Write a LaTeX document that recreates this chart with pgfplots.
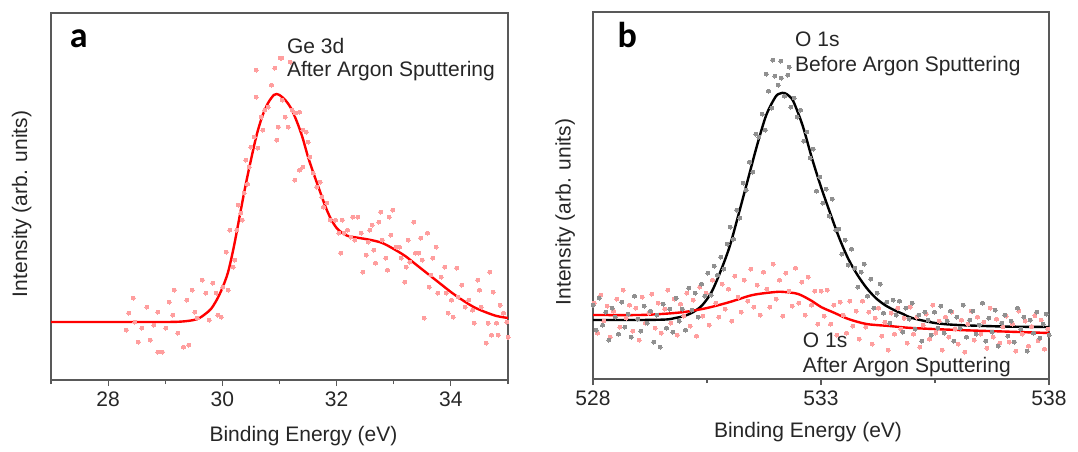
\documentclass[border=0pt]{standalone}
\usepackage{pgfplots}
\pgfplotsset{compat=1.18}
\usepackage{fontspec}
\setmainfont{Liberation Sans}
\newfontfamily\panelfont{Carlito}
\definecolor{axisgray}{HTML}{595959}
\definecolor{txt}{HTML}{262626}
\definecolor{pinkpt}{HTML}{FF9E9E}
\definecolor{graypt}{HTML}{909090}

\pgfplotsset{
  xpspanel/.style={
    scale only axis,
    height=367pt,
    ymin=0, ymax=367,
    ytick=\empty,
    xtick pos=bottom,
    tick align=outside,
    major tick length=6pt,
    minor tick length=4pt,
    axis line style={draw=axisgray, line width=1.2pt},
    tick style={draw=axisgray, line width=1.2pt},
    /pgf/number format/assume math mode=true,
    ticklabel style={font=\fontsize{21}{25}\selectfont, text=txt},
    label style={font=\fontsize{21}{25}\selectfont, text=txt},
    ylabel={Intensity (arb. units)},
    xlabel={Binding Energy (eV)},
  },
  redpts/.style={only marks, mark=*, mark size=2pt, color=pinkpt,
    mark options={draw=pinkpt, fill=pinkpt, line width=0pt}},
  graypts/.style={only marks, mark=*, mark size=2pt, color=graypt,
    mark options={draw=graypt, fill=graypt, line width=0pt}},
}

\begin{document}
\begin{tikzpicture}
\useasboundingbox (0,0) rectangle (1078pt,451pt);

% ---- panel a : Ge 3d ----
\begin{axis}[xpspanel,
  at={(51pt,71pt)}, anchor=south west,
  width=457pt,
  xmin=27, xmax=35,
  xtick={28,30,32,34},
  minor xtick={27,29,31,33,35},
  xlabel style={at={(axis description cs:0.5525,-0.168)}, anchor=base},
  ylabel style={at={(axis description cs:-0.064,0.48)}, anchor=center},
  xticklabel style={yshift=-2pt},
]
\addplot[redpts] coordinates {
(28.44,82)(28.36,67)(28.32,50)(28.47,58)(28.53,38)(28.59,52)(28.68,73)(28.74,40)
(28.80,55)(28.87,68)(28.87,28)(28.95,28)(29.01,52)(29.07,78)(29.16,90)(29.13,65)
(29.22,47)(29.32,33)(29.38,80)(29.41,35)(29.47,90)(29.52,68)(29.56,62)(29.65,100)
(29.71,87)(29.77,60)(29.83,97)(29.89,87)(29.92,65)(29.98,63)(30.01,93)(30.10,90)
(30.07,128)(30.19,113)(30.13,150)(30.25,150)(30.32,167)(30.38,187)(30.41,220)
(30.47,213)(30.50,233)(30.56,243)(30.59,283)(30.59,310)(30.68,263)(30.74,270)
(30.80,273)(30.86,295)(30.92,312)(30.95,240)(30.98,253)(31.01,322)(31.04,322)
(31.10,263)(31.15,253)(31.19,318)(31.22,270)(31.28,267)(31.35,268)(31.41,250)
(31.47,248)(31.50,238)(31.27,200)(31.35,210)(31.41,213)(31.53,223)(31.59,207)
(31.65,193)(31.71,198)(31.74,183)(31.77,173)(31.83,177)(31.89,160)(31.98,160)
(32.04,147)(32.07,127)(32.13,147)(32.19,150)(32.25,143)(32.28,163)(32.37,163)
(32.43,147)(32.46,108)(32.55,138)(32.58,150)(32.65,130)(32.68,117)(32.74,158)
(32.77,168)(32.80,140)(32.86,122)(32.89,110)(32.92,163)(32.98,170)(33.04,133)
(33.10,133)(33.13,122)(33.19,98)(33.22,113)(33.28,118)(33.35,158)(33.38,127)
(33.44,127)(33.47,142)(33.50,120)(33.53,62)(33.59,147)(33.62,93)(33.68,122)
(33.74,133)(33.77,87)(33.83,103)(33.89,113)(33.92,87)(33.95,67)(34.01,80)
(34.04,63)(34.10,112)(34.13,83)(34.19,95)(34.25,73)(34.31,80)(34.38,70)(34.41,57)
(34.47,100)(34.50,90)(34.53,73)(34.62,37)(34.65,57)(34.68,108)(34.71,45)(34.74,88)
(34.80,57)(34.83,45)(34.86,75)(34.92,67)(34.98,58)(35.00,43)
(30.22,120)(30.28,175)(30.35,160)(30.44,196)(30.62,232)(30.71,250)(31.05,280)
(32.10,160)(32.32,140)(32.52,125)(32.62,155)(32.95,145)(33.25,140)(33.65,105)
};
\addplot[red, line width=2.4pt, smooth] coordinates {
(27.0,58)(28.0,58)(29.0,58)(29.3,58.5)(29.5,60)(29.6,62)(29.7,66)(29.8,71)
(29.9,80)(30.0,92)(30.1,108)(30.2,133)(30.3,163)(30.4,193)(30.5,220)(30.6,245)
(30.7,264)(30.8,277)(30.9,285)(30.95,286)(31.0,285)(31.1,280)(31.2,272)(31.3,259)
(31.4,243)(31.5,223)(31.6,206)(31.7,190)(31.8,174)(31.9,161)(32.0,152)(32.1,147)
(32.2,144)(32.4,142)(32.6,140)(32.8,137)(33.0,131)(33.2,124)(33.4,115)(33.6,106)
(33.8,97)(34.0,88)(34.2,80)(34.4,73)(34.6,68)(34.8,64)(35.0,62)
};
\node[anchor=base, font=\panelfont\bfseries\fontsize{36}{40}\selectfont]
  at (axis description cs:0.061,0.905) {a};
\node[anchor=base west, inner sep=0pt, font=\fontsize{21}{25}\selectfont, text=txt]
  at (axis description cs:0.516,0.891) {Ge 3d};
\node[anchor=base west, inner sep=0pt, font=\fontsize{21}{25}\selectfont, text=txt]
  at (axis description cs:0.516,0.826) {After Argon Sputtering};
\end{axis}

% ---- panel b : O 1s ----
\begin{axis}[xpspanel,
  at={(593pt,72pt)}, anchor=south west,
  width=456pt,
  xmin=528, xmax=538,
  xtick={528,533,538},
  minor xtick={530.5,535.5},
  xlabel style={at={(axis description cs:0.4715,-0.16)}, anchor=base},
  ylabel style={at={(axis description cs:-0.061,0.455)}, anchor=center},
  xticklabel style={yshift=-2pt},
]
\addplot[redpts] coordinates {
(528.03,76)(528.10,46)(528.17,84)(528.24,58)(528.31,73)(528.38,42)(528.45,68)
(528.52,80)(528.59,52)(528.66,89)(528.73,61)(528.80,74)(528.87,48)(528.94,71)
(529.01,39)(529.08,82)(529.15,56)(529.22,66)(529.29,85)(529.36,51)(529.43,76)
(529.50,46)(529.57,70)(529.64,89)(529.71,56)(529.78,80)(529.85,44)(529.92,75)
(529.99,63)(530.06,86)(530.13,53)(530.20,79)(530.27,43)(530.34,92)(530.41,63)
(530.48,86)(530.55,54)(530.62,99)(530.69,76)(530.76,62)(530.83,95)(530.90,70)
(530.97,90)(531.04,58)(531.11,103)(531.18,82)(531.25,67)(531.32,99)(531.39,78)
(531.46,110)(531.53,72)(531.60,94)(531.67,64)(531.74,107)(531.81,90)(531.88,72)
(531.95,115)(532.02,80)(532.09,99)(532.16,63)(532.23,106)(532.30,88)(532.37,73)
(532.44,111)(532.51,76)(532.58,97)(532.65,64)(532.72,102)(532.79,74)(532.86,88)
(532.93,55)(533.00,88)(533.07,63)(533.14,89)(533.21,55)(533.28,74)(533.35,44)
(533.42,77)(533.49,64)(533.56,46)(533.63,78)(533.70,53)(533.77,68)(533.84,40)
(533.91,78)(533.98,52)(534.05,67)(534.12,35)(534.19,61)(534.26,71)(534.33,43)
(534.40,57)(534.47,29)(534.54,66)(534.61,45)(534.68,71)(534.75,50)(534.82,61)
(534.89,36)(534.96,72)(535.03,45)(535.10,62)(535.17,32)(535.24,54)(535.31,65)
(535.38,40)(535.45,74)(535.52,46)(535.59,58)(535.66,29)(535.73,62)(535.80,42)
(535.87,67)(535.94,50)(536.01,35)(536.08,59)(536.15,27)(536.22,55)(536.29,68)
(536.36,39)(536.43,62)(536.50,45)(536.57,57)(536.64,31)(536.71,71)(536.78,42)
(536.85,60)(536.92,36)(536.99,52.5)(537.06,63)(537.13,37)(537.20,55)(537.27,28)
(537.34,68)(537.41,45)(537.48,58)(537.55,33)(537.62,52.5)(537.69,63.5)(537.76,38.5)
(537.83,59)(537.90,30)(537.97,50)
};
\addplot[graypts] coordinates {
(528.00,74)(528.07,49)(528.14,81)(528.21,54)(528.28,67)(528.35,39)(528.42,71)
(528.49,62)(528.56,45)(528.63,77)(528.70,52)(528.77,65)(528.84,42)(528.91,83)
(528.98,60)(529.05,48)(529.12,73)(529.19,56)(529.26,68)(529.33,37)(529.40,64)
(529.47,32)(529.54,75)(529.61,51)(529.68,70)(529.75,47)(529.82,81)(529.89,58)
(529.96,70)(530.03,49)(530.10,91)(530.17,69)(530.24,86)(530.31,62)(530.38,95)
(530.45,83)(530.52,106)(530.59,84)(530.66,113)(530.73,104)(530.80,122)(530.87,110)
(530.94,135)(531.01,152)(531.08,140)(531.15,169)(531.22,161)(531.29,196)(531.36,189)
(531.43,217)(531.50,207)(531.57,245)(531.64,242)(531.71,265)(531.78,249)(531.85,288)
(531.92,271)(531.99,303)(532.06,294)(532.13,301)(532.20,283)(532.27,304)(532.34,272)
(532.41,281)(532.48,262)(532.55,269)(532.62,238)(532.69,247)(532.76,221)(532.83,230)
(532.90,188)(532.97,202)(533.04,176)(533.11,190)(533.18,163)(533.25,180)(533.32,149)
(533.39,150)(533.46,125)(533.53,139)(533.60,114)(533.67,130)(533.74,111)(533.81,92)
(533.88,107)(533.95,115)(534.02,83)(534.09,100)(534.16,71)(534.23,86)(534.30,95)
(534.37,66)(534.44,77)(534.51,56)(534.58,79)(534.65,64)(534.72,78)(534.79,47)
(534.86,71)(534.93,60)(535.00,76)(535.07,50)(535.14,64)(535.21,38)(535.28,67)
(535.35,59)(535.42,44)(535.49,67)(535.56,51)(535.63,73)(535.70,46)(535.77,58)
(535.84,68)(535.91,38)(535.98,62)(536.05,51)(536.12,74)(536.19,42)(536.26,59)
(536.33,68)(536.40,45)(536.47,54)(536.54,76)(536.61,38)(536.68,61)(536.75,47)
(536.82,69)(536.89,33)(536.96,56)(537.03,64)(537.10,43)(537.17,58)(537.24,37)
(537.31,71)(537.38,50)(537.45,62)(537.52,28)(537.59,59)(537.66,46)(537.73,67)
(537.80,41)(537.87,55)(537.94,65)(538.00,44)
(531.94,319)(531.80,305)(532.12,318)(532.30,312)
};
\addplot[black, line width=2.4pt, smooth] coordinates {
(528,59)(529,59)(529.6,59.5)(529.8,61)(530.0,63)(530.2,67)(530.4,74)(530.6,87)
(530.8,108)(531.0,133)(531.2,166)(531.4,200)(531.6,234)(531.8,264)(532.0,282)
(532.1,285.5)(532.2,286)(532.3,283)(532.4,277)(532.6,253)(532.8,221)(533.0,192)
(533.2,166)(533.4,141)(533.6,120)(533.8,104)(534.0,91)(534.2,81)(534.4,74)
(534.6,69)(534.8,65)(535.0,61)(535.5,56)(536,54)(537,52.5)(538,52)
};
\addplot[red, line width=2.4pt, smooth] coordinates {
(528,64)(529,64)(529.5,65)(530,67)(530.5,71)(531,77)(531.5,84)(532,87)(532.2,87)
(532.5,85)(532.8,78)(533,72)(533.3,66)(533.6,60)(534,55)(534.5,53)(535,51)
(536,49)(537,47.5)(538,46)
};
\node[anchor=base, font=\panelfont\bfseries\fontsize{36}{40}\selectfont]
  at (axis description cs:0.075,0.902) {b};
\node[anchor=base west, inner sep=0pt, font=\fontsize{21}{25}\selectfont, text=txt]
  at (axis description cs:0.443,0.905) {O 1s};
\node[anchor=base west, inner sep=0pt, font=\fontsize{21}{25}\selectfont, text=txt]
  at (axis description cs:0.443,0.837) {Before Argon Sputtering};
\node[anchor=base west, inner sep=0pt, font=\fontsize{21}{25}\selectfont, text=txt]
  at (axis description cs:0.460,0.087) {O 1s};
\node[anchor=base west, inner sep=0pt, font=\fontsize{21}{25}\selectfont, text=txt]
  at (axis description cs:0.460,0.019) {After Argon Sputtering};
\end{axis}
\end{tikzpicture}
\end{document}
